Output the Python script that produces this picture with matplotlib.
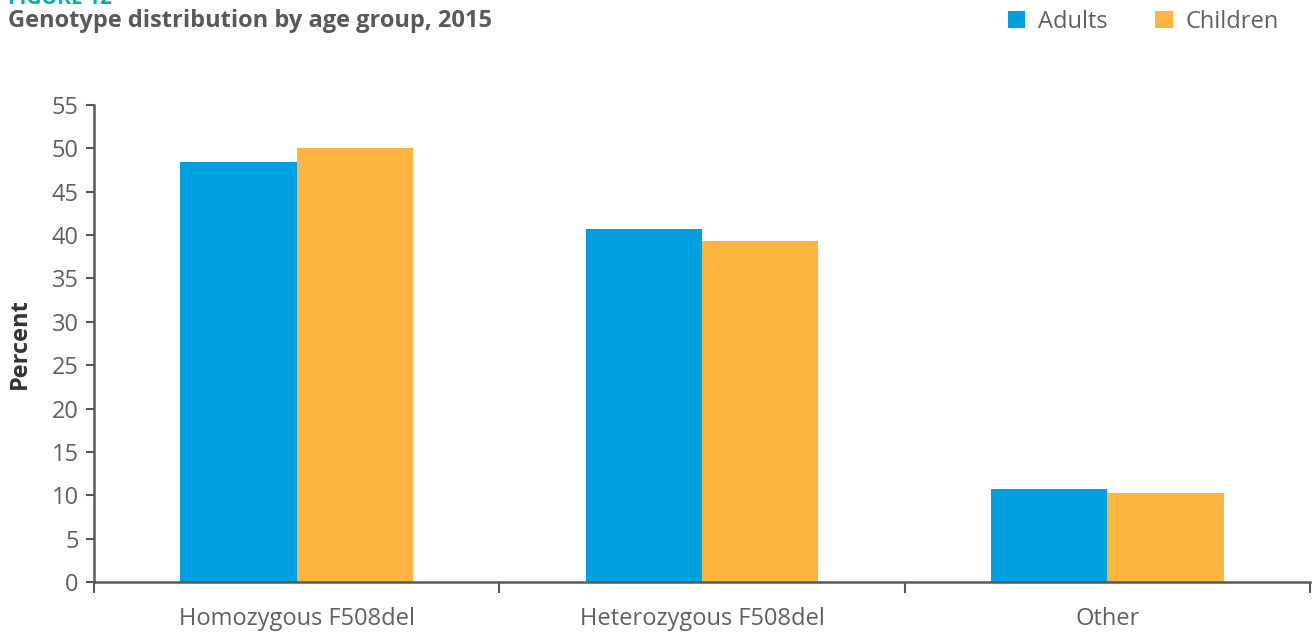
import matplotlib
matplotlib.use('Agg')
import matplotlib.pyplot as plt
import numpy as np

# data
categories = ['Homozygous F508del', 'Heterozygous F508del', 'Other']
adults = [48.4, 40.7, 10.7]
children = [50.0, 39.3, 10.3]
yticks = list(range(0, 60, 5))

BLUE = '#009fe0'
ORANGE = '#fbb53e'
GREY = '#58595b'
TEXT = '#5f6062'

plt.rcParams['font.family'] = ['Open Sans', 'DejaVu Sans']

fig = plt.figure(figsize=(13.13, 6.32), dpi=100)
ax = fig.add_axes([94 / 1313, 1 - 582 / 632, (1310 - 94) / 1313, (582 - 105) / 632])

x = np.arange(len(categories))
w = 0.287
ax.bar(x - w / 2, adults, w, color=BLUE, label='Adults')
ax.bar(x + w / 2, children, w, color=ORANGE, label='Children')

ax.set_xlim(-0.5, len(categories) - 0.5)
ax.set_ylim(0, 55)
ax.set_yticks(yticks)
ax.set_xticks(x)
ax.set_xticklabels(categories)
ax.set_xticks(np.arange(-0.5, len(categories)), minor=True)

ax.tick_params(axis='y', direction='out', length=6, width=1.5, color=GREY,
               labelcolor=TEXT, labelsize=17, pad=5)
ax.tick_params(axis='x', which='major', length=0, labelcolor=TEXT,
               labelsize=17, pad=18)
ax.tick_params(axis='x', which='minor', direction='out', length=8, width=1.5,
               color=GREY)

for s in ['top', 'right']:
    ax.spines[s].set_visible(False)
for s in ['left', 'bottom']:
    ax.spines[s].set_color(GREY)
    ax.spines[s].set_linewidth(1.8)

ax.set_ylabel('Percent', fontsize=17, fontweight='bold', color='#333333',
              labelpad=14)

# titles
fig.text(8 / 1313, 1 + 1 / 632, 'FIGURE 12', fontsize=15, fontweight='bold',
         color='#00b2a9', va='center', ha='left')
fig.text(8 / 1313, 1 - 21 / 632, 'Genotype distribution by age group, 2015',
         fontsize=17, fontweight='bold', color=GREY, va='center', ha='left')

leg = fig.legend(loc='upper right', bbox_to_anchor=(1279 / 1313, 1 - 10 / 632),
                 ncol=2, frameon=False, fontsize=17, handlelength=0.75,
                 handleheight=0.75, handletextpad=0.55, columnspacing=2.0,
                 borderaxespad=0, borderpad=0)
for t in leg.get_texts():
    t.set_color(TEXT)

fig.savefig('out.png', dpi=100, facecolor='white')
